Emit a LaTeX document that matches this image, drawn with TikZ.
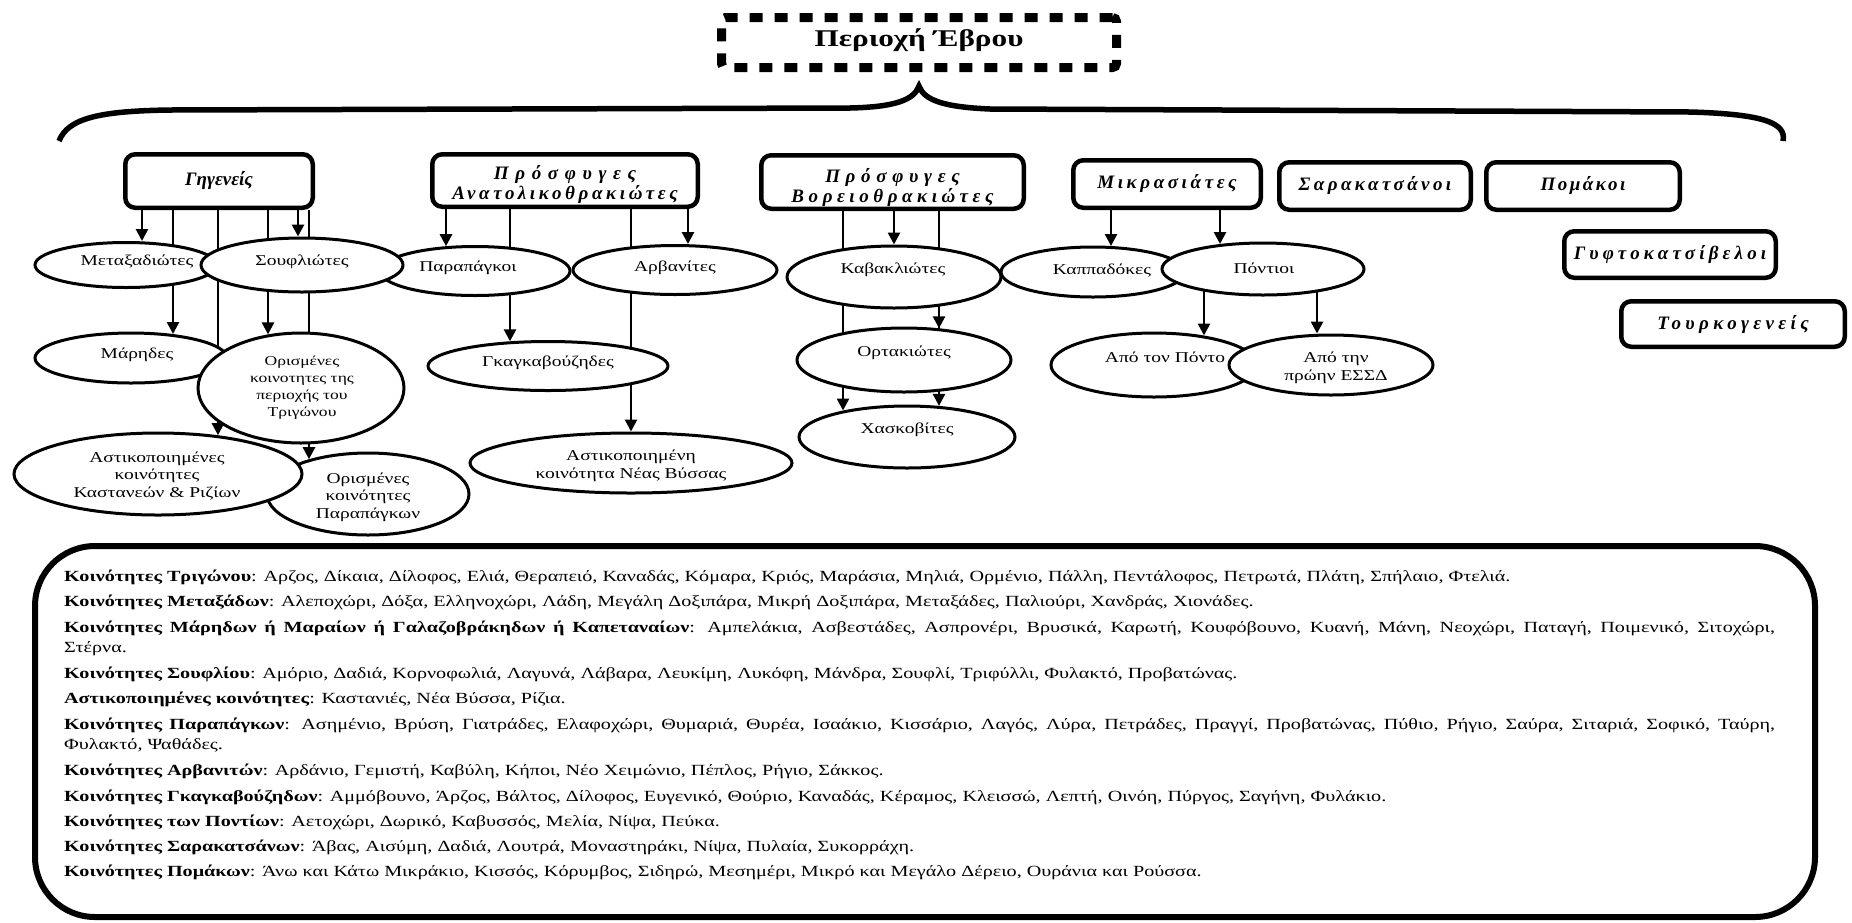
\documentclass[tikz,border=0pt]{standalone}
\usepackage{fontspec}
\setmainfont[FakeStretch=1.3]{Liberation Serif}
\newfontfamily\headfont{Liberation Serif}
\usetikzlibrary{shapes.geometric,arrows.meta,calc,backgrounds}

\newcommand{\spaced}[2]{{\addfontfeature{LetterSpace=#1}#2}}

\begin{document}
\begin{tikzpicture}[x=1pt,y=-1pt,
  ell/.style={draw, ellipse, line width=3pt, fill=white, inner sep=0pt},
  etext/.style={font=\fontsize{15}{17.5}\selectfont, align=center, inner sep=0pt},
  hfont/.style={font=\headfont\bfseries\itshape\fontsize{19}{20}\selectfont, align=center},
  hbox/.style={draw, rounded corners=10pt, line width=4.5pt, fill=white, inner sep=0pt, hfont},
  htext/.style={inner sep=0pt, hfont},
  arr/.style={line width=2.6pt, -{Triangle[length=12pt,width=12pt]}},
  ltext/.style={anchor=base west, inner sep=0pt, font=\fontsize{15.5}{18}\selectfont}
]
\useasboundingbox (0,0) rectangle (1852,922);

% ---------- title and brace ----------
\node[draw, line width=9pt, dash pattern=on 13pt off 12pt, rounded corners=4pt,
      minimum width=395pt, minimum height=50pt, inner sep=0pt] (title) at (919,42.5) {};
\node[font=\bfseries\fontsize{24}{28}\selectfont, inner sep=0pt] (titletext) at (919,40) {Περιοχή Έβρου};

\draw[line width=5.5pt] (59,141) .. controls (68,118) and (100,111) .. (170,110)
  -- (850,108) .. controls (895,107) and (914,100) .. (919,86)
  .. controls (924,100) and (943,107) .. (990,109)
  -- (1690,112) .. controls (1760,114) and (1787,122) .. (1783,141);

% ---------- group headers ----------
\node[hbox, minimum width=187.5pt, minimum height=53.5pt] (gig) at (219,181) {Γηγενείς};
\node[hbox, minimum width=265.5pt, minimum height=52.5pt] (anat) at (565,180.5) {};
\node[htext] (anatt) at (565,184.5) {\spaced{35}{Πρόσφυγες}\\\spaced{19}{Ανατολικοθρακιώτες}};
\node[hbox, minimum width=262.5pt, minimum height=53.5pt] (vor) at (892.5,182) {};
\node[htext] (vort) at (892.5,188) {\spaced{30}{Πρόσφυγες}\\\spaced{24}{Βορειοθρακιώτες}};
\node[hbox, minimum width=187.5pt, minimum height=47.5pt] (mikr) at (1167,184) {\spaced{19}{Μικρασιάτες}};
\node[hbox, minimum width=191.5pt, minimum height=47.5pt] (sarak) at (1375,186) {\spaced{18}{Σαρακατσάνοι}};
\node[hbox, minimum width=193.5pt, minimum height=47.5pt] (pom) at (1583,186) {\spaced{13}{Πομάκοι}};
\node[hbox, minimum width=211.5pt, minimum height=46.5pt] (gyft) at (1670,254.5) {\spaced{22}{Γυφτοκατσίβελοι}};
\node[hbox, minimum width=223.5pt, minimum height=45.5pt] (tourk) at (1733,324) {\spaced{23}{Τουρκογενείς}};

% ---------- sub-groups (later ellipses lie on top of earlier ones) ----------
\node[ell, minimum width=190pt, minimum height=49pt] (parap) at (475,271) {};
\node[ell, minimum width=182pt, minimum height=45pt] (metax) at (126,265) {};
\node[ell, minimum width=202pt, minimum height=54pt] (soufl) at (302,265) {};
\node[ell, minimum width=192pt, minimum height=50pt] (marides) at (131,358) {};
\node[ell, minimum width=206pt, minimum height=110pt] (trig) at (301,388) {};
\node[ell, minimum width=202pt, minimum height=82pt] (orispar) at (368,494) {};
\node[ell, minimum width=288pt, minimum height=82pt] (astik) at (158,474) {};
\node[ell, minimum width=204pt, minimum height=49pt] (arv) at (675,270) {};
\node[ell, minimum width=240pt, minimum height=49pt] (gkag) at (548,366) {};
\node[ell, minimum width=322pt, minimum height=60pt] (nvyssa) at (631,463) {};
\node[ell, minimum width=214pt, minimum height=62pt] (kav) at (894,277) {};
\node[ell, minimum width=214pt, minimum height=64pt] (ort) at (904,360) {};
\node[ell, minimum width=216pt, minimum height=62pt] (xask) at (907,437) {};
\node[ell, minimum width=184pt, minimum height=50pt] (kapp) at (1093,272) {};
\node[ell, minimum width=202pt, minimum height=52pt] (pont) at (1263,269) {};
\node[ell, minimum width=206pt, minimum height=64pt] (apopont) at (1154,365) {};
\node[ell, minimum width=204pt, minimum height=60pt] (essd) at (1331,365) {};

% ---------- ellipse labels ----------
\node[etext] (metaxt) at (137,262) {Μεταξαδιώτες};
\node[etext] (soufltext) at (302,262) {Σουφλιώτες};
\node[etext] (maridest) at (137,355) {Μάρηδες};
\node[etext, font=\fontsize{13.5}{17}\selectfont] (trigt) at (302,388) {Ορισμένες\\κοινοτητες της\\περιοχής του\\Τριγώνου};
\node[etext] (astikt) at (157,476) {Αστικοποιημένες\\κοινότητες\\Καστανεών \& Ριζίων};
\node[etext] (orispart) at (368,497) {Ορισμένες\\κοινότητες\\Παραπάγκων};
\node[etext] (parapt) at (468,268) {Παραπάγκοι};
\node[etext] (arvt) at (675,268) {Αρβανίτες};
\node[etext] (gkagt) at (548,363) {Γκαγκαβούζηδες};
\node[etext] (nvyssat) at (631,466) {Αστικοποιημένη\\κοινότητα Νέας Βύσσας};
\node[etext] (kavt) at (893,270) {Καβακλιώτες};
\node[etext] (ortt) at (904,353) {Ορτακιώτες};
\node[etext] (xaskt) at (907,430) {Χασκοβίτες};
\node[etext] (kappt) at (1102,271) {Καππαδόκες};
\node[etext] (pontt) at (1264,268) {Πόντιοι};
\node[etext] (apopontt) at (1165,357) {Από τον Πόντο};
\node[etext] (essdt) at (1336,368) {Από την\\πρώην ΕΣΣΔ};

% ---------- connectors (behind the ellipses) ----------
\begin{scope}[on background layer]
\draw[arr] ([xshift=-77pt]gig.south) -- ([xshift=16pt]metax.north);
\draw[arr] ([xshift=-46pt]gig.south) -- ([xshift=42pt,yshift=-2.5pt]marides.north);
\draw[arr] ([xshift=-1pt]gig.south) -- ([xshift=60pt,yshift=-3.7pt]astik.north);
\draw[arr] ([xshift=49pt]gig.south) -- ([xshift=-33pt,yshift=-2.9pt]trig.north);
\draw[arr] ([xshift=79pt]gig.south) -- ([xshift=-4pt]soufl.north);
\draw[arr] ([xshift=90pt]gig.south) -- ([xshift=-59pt,yshift=-7.7pt]orispar.north);

\draw[arr] ([xshift=-119pt]anat.south) -- ([xshift=-29pt,yshift=-1.2pt]parap.north);
\draw[arr] ([xshift=-55pt]anat.south) -- ([xshift=-38pt,yshift=-1.3pt]gkag.north);
\draw[arr] ([xshift=66pt]anat.south) -- (nvyssa.north);
\draw[arr] ([xshift=123pt]anat.south) -- ([xshift=13pt]arv.north);

\draw[arr] ([xshift=-49.5pt]vor.south) -- ([xshift=-64pt,yshift=-6pt]xask.north);
\draw[arr] ([xshift=1.5pt]vor.south) -- (kav.north);
\draw[arr] ([xshift=46.5pt]vor.south) -- ([xshift=35pt,yshift=-1.8pt]ort.north);
\draw[arr] ([xshift=46.5pt]vor.south) -- ([xshift=32pt,yshift=-1.4pt]xask.north);

\draw[arr] ([xshift=-56pt]mikr.south) -- ([xshift=18pt,yshift=-0.5pt]kapp.north);
\draw[arr] ([xshift=53pt]mikr.south) -- ([xshift=-43pt,yshift=-2.5pt]pont.north);
\draw[arr] ([xshift=-59pt]pont.center) -- ([xshift=50pt,yshift=-4pt]apopont.north);
\draw[arr] ([xshift=54pt]pont.center) -- ([xshift=-14pt]essd.north);
\end{scope}

% ---------- list of communities ----------
\node[draw, line width=6pt, rounded corners=60pt, minimum width=1780pt, minimum height=371pt,
      inner sep=0pt] (legend) at (925,731.5) {};

\node[ltext] (l1) at (64,581) {\textbf{Κοινότητες Τριγώνου}: Αρζος, Δίκαια, Δίλοφος, Ελιά, Θεραπειό, Καναδάς, Κόμαρα, Κριός, Μαράσια, Μηλιά, Ορμένιο, Πάλλη, Πεντάλοφος, Πετρωτά, Πλάτη, Σπήλαιο, Φτελιά.};
\node[ltext] (l2) at (64,606) {\textbf{Κοινότητες Μεταξάδων}: Αλεποχώρι, Δόξα, Ελληνοχώρι, Λάδη, Μεγάλη Δοξιπάρα, Μικρή Δοξιπάρα, Μεταξάδες, Παλιούρι, Χανδράς, Χιονάδες.};
\node[ltext] (l3) at (64,632) {\makebox[1711pt][s]{\textbf{Κοινότητες Μάρηδων ή Μαραίων ή Γαλαζοβράκηδων ή Καπεταναίων}: Αμπελάκια, Ασβεστάδες, Ασπρονέρι, Βρυσικά, Καρωτή, Κουφόβουνο, Κυανή, Μάνη, Νεοχώρι, Παταγή, Ποιμενικό, Σιτοχώρι,}};
\node[ltext] (l3b) at (64,652) {Στέρνα.};
\node[ltext] (l4) at (64,678) {\textbf{Κοινότητες Σουφλίου}: Αμόριο, Δαδιά, Κορνοφωλιά, Λαγυνά, Λάβαρα, Λευκίμη, Λυκόφη, Μάνδρα, Σουφλί, Τριφύλλι, Φυλακτό, Προβατώνας.};
\node[ltext] (l5) at (64,703) {\textbf{Αστικοποιημένες κοινότητες}: Καστανιές, Νέα Βύσσα, Ρίζια.};
\node[ltext] (l6) at (64,729) {\makebox[1711pt][s]{\textbf{Κοινότητες Παραπάγκων}: Ασημένιο, Βρύση, Γιατράδες, Ελαφοχώρι, Θυμαριά, Θυρέα, Ισαάκιο, Κισσάριο, Λαγός, Λύρα, Πετράδες, Πραγγί, Προβατώνας, Πύθιο, Ρήγιο, Σαύρα, Σιταριά, Σοφικό, Ταύρη,}};
\node[ltext] (l6b) at (64,749) {Φυλακτό, Ψαθάδες.};
\node[ltext] (l7) at (64,775) {\textbf{Κοινότητες Αρβανιτών}: Αρδάνιο, Γεμιστή, Καβύλη, Κήποι, Νέο Χειμώνιο, Πέπλος, Ρήγιο, Σάκκος.};
\node[ltext] (l8) at (64,801) {\textbf{Κοινότητες Γκαγκαβούζηδων}: Αμμόβουνο, Άρζος, Βάλτος, Δίλοφος, Ευγενικό, Θούριο, Καναδάς, Κέραμος, Κλεισσώ, Λεπτή, Οινόη, Πύργος, Σαγήνη, Φυλάκιο.};
\node[ltext] (l9) at (64,826) {\textbf{Κοινότητες των Ποντίων}: Αετοχώρι, Δωρικό, Καβυσσός, Μελία, Νίψα, Πεύκα.};
\node[ltext] (l10) at (64,851) {\textbf{Κοινότητες Σαρακατσάνων}: Άβας, Αισύμη, Δαδιά, Λουτρά, Μοναστηράκι, Νίψα, Πυλαία, Συκορράχη.};
\node[ltext] (l11) at (64,876) {\textbf{Κοινότητες Πομάκων}: Άνω και Κάτω Μικράκιο, Κισσός, Κόρυμβος, Σιδηρώ, Μεσημέρι, Μικρό και Μεγάλο Δέρειο, Ουράνια και Ρούσσα.};
\end{tikzpicture}
\end{document}
